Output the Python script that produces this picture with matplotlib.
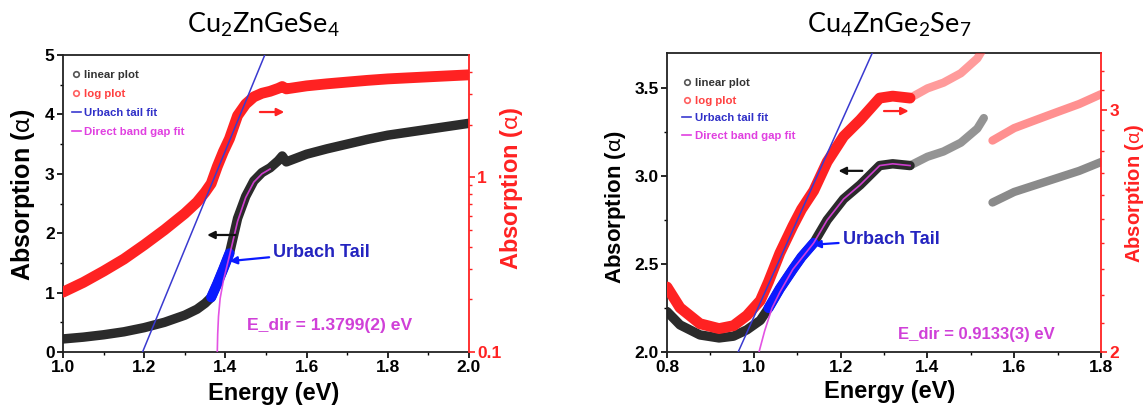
import matplotlib
matplotlib.use('Agg')
import matplotlib.pyplot as plt
import numpy as np
from matplotlib.lines import Line2D
from matplotlib.ticker import MultipleLocator, FixedLocator, NullFormatter, FormatStrFormatter

plt.rcParams['font.family'] = ['Liberation Sans', 'DejaVu Sans']
plt.rcParams['mathtext.fontset'] = 'custom'
plt.rcParams['mathtext.rm'] = 'Lato'
plt.rcParams['mathtext.default'] = 'rm'

# ---------------- data: Cu2ZnGeSe4 ----------------
title1 = 'Cu$_2$ZnGeSe$_4$'
E1 = [1.00, 1.05, 1.10, 1.15, 1.20, 1.25, 1.30, 1.33, 1.35, 1.365, 1.38, 1.395, 1.41,
      1.43, 1.45, 1.47, 1.49, 1.51, 1.53, 1.54, 1.55, 1.60, 1.65, 1.70, 1.75, 1.80,
      1.85, 1.90, 1.95, 2.00]
A1 = [0.22, 0.25, 0.29, 0.34, 0.41, 0.50, 0.62, 0.72, 0.82, 0.92, 1.15, 1.40, 1.66,
      2.25, 2.62, 2.88, 3.02, 3.10, 3.22, 3.30, 3.20, 3.33, 3.42, 3.50, 3.58, 3.65,
      3.70, 3.75, 3.80, 3.85]
urbach_range1 = (1.365, 1.41)
urbach_fit_E1 = [1.196, 1.497]
urbach_fit_A1 = [0.1, 5.0]
direct_fit_E1 = [1.380, 1.381, 1.383, 1.387, 1.395, 1.41, 1.43, 1.45, 1.47, 1.49, 1.51]
direct_fit_A1 = [0.0, 0.3, 0.6, 0.9, 1.2, 1.62, 2.2, 2.6, 2.86, 3.0, 3.08]
edir1 = 'E_dir = 1.3799(2) eV'

# ---------------- data: Cu4ZnGe2Se7 ----------------
title2 = 'Cu$_4$ZnGe$_2$Se$_7$'
E2 = [0.80, 0.83, 0.876, 0.92, 0.953, 0.984, 1.015, 1.034, 1.06, 1.09, 1.11, 1.138,
      1.169, 1.207, 1.245, 1.29, 1.32, 1.36, 1.40, 1.437, 1.477, 1.515, 1.53]
A2 = [2.23, 2.154, 2.097, 2.08, 2.09, 2.126, 2.18, 2.25, 2.36, 2.47, 2.54, 2.62,
      2.75, 2.87, 2.95, 3.06, 3.07, 3.06, 3.11, 3.14, 3.19, 3.27, 3.33]
E3 = [1.55, 1.60, 1.65, 1.70, 1.75, 1.80]
A3 = [2.85, 2.91, 2.95, 2.99, 3.03, 3.08]
urbach_range2 = (1.034, 1.138)
urbach_fit_E2 = [0.964, 1.273]
urbach_fit_A2 = [2.0, 3.3]
direct_fit_E2 = [1.012, 1.025, 1.042, 1.06, 1.09, 1.138, 1.169, 1.207, 1.245, 1.29, 1.32, 1.36]
direct_fit_A2 = [2.0, 2.12, 2.25, 2.34, 2.47, 2.62, 2.75, 2.87, 2.95, 3.06, 3.07, 3.06]
edir2 = 'E_dir = 0.9133(3) eV'

legend_labels = ['linear plot', 'log plot', 'Urbach tail fit', 'Direct band gap fit']

# ---------------- style ----------------
C_LIN = '#2b2b2b'
C_LOG = '#ff2222'
C_UHL = '#0a1aff'
C_UFIT = '#3a3ad0'
C_DFIT = '#e040e0'
C_TXT_U = '#2424c0'
C_EDIR = '#d040d8'
LW_MAIN = 6.8
LW_LIGHT = 6

W, H = 1147, 408
fig = plt.figure(figsize=(W / 100, H / 100), dpi=100)
fig.patch.set_facecolor('white')


def px_axes(x0, y0, x1, y1):
    return fig.add_axes([x0 / W, 1 - y1 / H, (x1 - x0) / W, (y1 - y0) / H])


def style_axes(ax, tw):
    for s in ['left', 'bottom', 'top']:
        ax.spines[s].set_linewidth(1.3)
        ax.spines[s].set_color('#222222')
    ax.spines['right'].set_visible(False)
    for s in ['left', 'bottom', 'top']:
        tw.spines[s].set_visible(False)
    tw.spines['right'].set_color(C_LOG)
    tw.spines['right'].set_linewidth(1.3)
    ax.tick_params(which='major', direction='out', length=4, width=1.2, pad=2,
                   labelsize=12.5, top=False, right=False)
    ax.tick_params(which='minor', direction='out', length=2.5, width=1.0, top=False, right=False)
    tw.tick_params(which='major', direction='out', length=4, width=1.2, colors=C_LOG,
                   labelsize=12.5, pad=2)
    tw.tick_params(which='minor', direction='out', length=2.5, width=1.0, colors=C_LOG)
    for lab in ax.get_xticklabels() + ax.get_yticklabels() + tw.get_yticklabels():
        lab.set_fontweight('bold')


def panel(ax, E, A, extra, urange, ufE, ufA, dfE, dfA, xlim, ylim, tw_lim,
          tw_major, tw_minor, tw_labels, yfmt, ymaj, ymin_, light_from=None):
    tw = ax.twinx()
    E = np.asarray(E); A = np.asarray(A)
    segs = [(E, A)] + [(np.asarray(e), np.asarray(a)) for e, a in extra]
    for k, (e, a) in enumerate(segs):
        if k == 0:
            m = e <= (light_from if light_from is not None else e.max())
            ax.plot(e[m], a[m], color=C_LIN, lw=LW_MAIN, solid_capstyle='round', zorder=2)
            tw.plot(e[m], a[m], color=C_LOG, lw=LW_MAIN + 1.0, solid_capstyle='round', zorder=2)
            if light_from is not None:
                m2 = e >= light_from
                ax.plot(e[m2], a[m2], color=C_LIN, lw=LW_LIGHT, alpha=0.5,
                        solid_capstyle='round', zorder=2)
                tw.plot(e[m2], a[m2], color=C_LOG, lw=LW_LIGHT, alpha=0.45,
                        solid_capstyle='round', zorder=2)
        else:
            ax.plot(e, a, color=C_LIN, lw=LW_LIGHT, alpha=0.55, solid_capstyle='round', zorder=2)
            tw.plot(e, a, color=C_LOG, lw=LW_LIGHT, alpha=0.5, solid_capstyle='round', zorder=2)
    m = (E >= urange[0]) & (E <= urange[1])
    ax.plot(E[m], A[m], color=C_UHL, lw=LW_MAIN + 0.5, solid_capstyle='round', zorder=3)
    ax.plot(dfE, dfA, color=C_DFIT, lw=1.2, zorder=4, alpha=0.9)
    tw.plot(ufE, ufA, color=C_UFIT, lw=1.1, zorder=5)

    ax.set_xlim(*xlim)
    ax.set_ylim(*ylim)
    tw.set_yscale('log')
    tw.set_ylim(*tw_lim)
    tw.yaxis.set_major_locator(FixedLocator(tw_major))
    tw.yaxis.set_minor_locator(FixedLocator(tw_minor))
    tw.yaxis.set_major_formatter(plt.FixedFormatter(tw_labels))
    tw.yaxis.set_minor_formatter(NullFormatter())
    ax.xaxis.set_major_locator(MultipleLocator(0.2))
    ax.xaxis.set_minor_locator(MultipleLocator(0.1))
    ax.xaxis.set_major_formatter(FormatStrFormatter('%.1f'))
    ax.yaxis.set_major_locator(MultipleLocator(ymaj))
    ax.yaxis.set_minor_locator(MultipleLocator(ymin_))
    ax.yaxis.set_major_formatter(FormatStrFormatter(yfmt))
    style_axes(ax, tw)
    return tw


def legend(ax, anchor, spacing):
    handles = [
        Line2D([], [], ls='none', marker='o', ms=4, mfc='none', mec='#555555', mew=1.2),
        Line2D([], [], ls='none', marker='o', ms=4, mfc='none', mec='#ff6060', mew=1.2),
        Line2D([], [], color=C_UFIT, lw=1.2),
        Line2D([], [], color=C_DFIT, lw=1.2),
    ]
    leg = ax.legend(handles, legend_labels, loc='upper left', bbox_to_anchor=anchor,
                    frameon=False, handlelength=0.8, handletextpad=0.3,
                    labelspacing=spacing, borderpad=0, borderaxespad=0,
                    prop={'weight': 'bold', 'size': 8.2},
                    labelcolor=['#333333', '#ff4040', '#3030c8', '#e040e0'])
    leg.set_zorder(10)


def arrow(ax, x0, x1, y, color):
    ax.annotate('', xy=(x1, y), xytext=(x0, y),
                arrowprops=dict(arrowstyle='-|>', color=color, lw=1.6, mutation_scale=11,
                                shrinkA=0, shrinkB=0), zorder=6)


# ---------------- panel 1 ----------------
ax1 = px_axes(63, 55, 469, 352)
tw1 = panel(ax1, E1, A1, [], urbach_range1, urbach_fit_E1, urbach_fit_A1,
            direct_fit_E1, direct_fit_A1, (1.0, 2.0), (0, 5), (0.1, 5.0),
            [0.1, 1.0],
            [0.2, 0.3, 0.4, 0.5, 0.6, 0.7, 0.8, 0.9, 2, 3, 4],
            ['0.1', '1'], '%d', 1, 0.5)
legend(ax1, (0.022, 0.948), 0.78)
arrow(ax1, 1.425, 1.355, 1.97, '#111111')
arrow(ax1, 1.485, 1.545, 4.04, C_LOG)
ax1.annotate('Urbach Tail', xy=(1.41, 1.53), xytext=(1.518, 1.68),
             color=C_TXT_U, fontsize=13, fontweight='bold', va='center', ha='left',
             arrowprops=dict(arrowstyle='-|>', color=C_UHL, lw=1.6, mutation_scale=11,
                             shrinkA=1, shrinkB=0), zorder=6)
ax1.text(1.452, 0.45, edir1, color=C_EDIR, fontsize=12.6, fontweight='bold',
         va='center', ha='left', zorder=6)
ax1.set_xlabel('Energy (eV)', fontsize=17, fontweight='bold')
ax1.xaxis.set_label_coords(0.52, -0.100)
ax1.set_ylabel('Absorption ($\\alpha$)', fontsize=18, fontweight='bold')
ax1.yaxis.set_label_coords(-0.064, 0.53)
tw1.set_ylabel('Absorption ($\\alpha$)', fontsize=17, fontweight='bold', color=C_LOG)
tw1.yaxis.set_label_coords(1.071, 0.55)
fig.text(263 / W, 1 - 25 / H, title1, fontsize=19.5, ha='center', va='center', family='Lato')

# ---------------- panel 2 ----------------
ax2 = px_axes(667, 53, 1101, 352)
tw2 = panel(ax2, E2, A2, [(E3, A3)], urbach_range2, urbach_fit_E2, urbach_fit_A2,
            direct_fit_E2, direct_fit_A2, (0.8, 1.8), (2.0, 3.7), (2.0, 3.3),
            [2.0, 3.0],
            [2.1, 2.2, 2.3, 2.4, 2.5, 2.6, 2.7, 2.8, 2.9, 3.1, 3.2],
            ['2', '3'], '%.1f', 0.5, 0.25, light_from=1.36)
legend(ax2, (0.035, 0.915), 0.66)
arrow(ax2, 1.25, 1.195, 3.03, '#111111')
arrow(ax2, 1.30, 1.357, 3.37, C_LOG)
ax2.annotate('Urbach Tail', xy=(1.137, 2.61), xytext=(1.205, 2.64),
             color=C_TXT_U, fontsize=13, fontweight='bold', va='center', ha='left',
             arrowprops=dict(arrowstyle='-|>', color=C_UHL, lw=1.6, mutation_scale=11,
                             shrinkA=1, shrinkB=0), zorder=6)
ax2.text(1.333, 2.10, edir2, color=C_EDIR, fontsize=12, fontweight='bold',
         va='center', ha='left', zorder=6)
ax2.set_xlabel('Energy (eV)', fontsize=17, fontweight='bold')
ax2.xaxis.set_label_coords(0.513, -0.094)
ax2.set_ylabel('Absorption ($\\alpha$)', fontsize=16, fontweight='bold')
ax2.yaxis.set_label_coords(-0.09, 0.485)
tw2.set_ylabel('Absorption ($\\alpha$)', fontsize=14.5, fontweight='bold', color=C_LOG)
tw2.yaxis.set_label_coords(1.050, 0.53)
fig.text(889 / W, 1 - 25 / H, title2, fontsize=19.5, ha='center', va='center', family='Lato')

fig.savefig('out.png', dpi=100)
